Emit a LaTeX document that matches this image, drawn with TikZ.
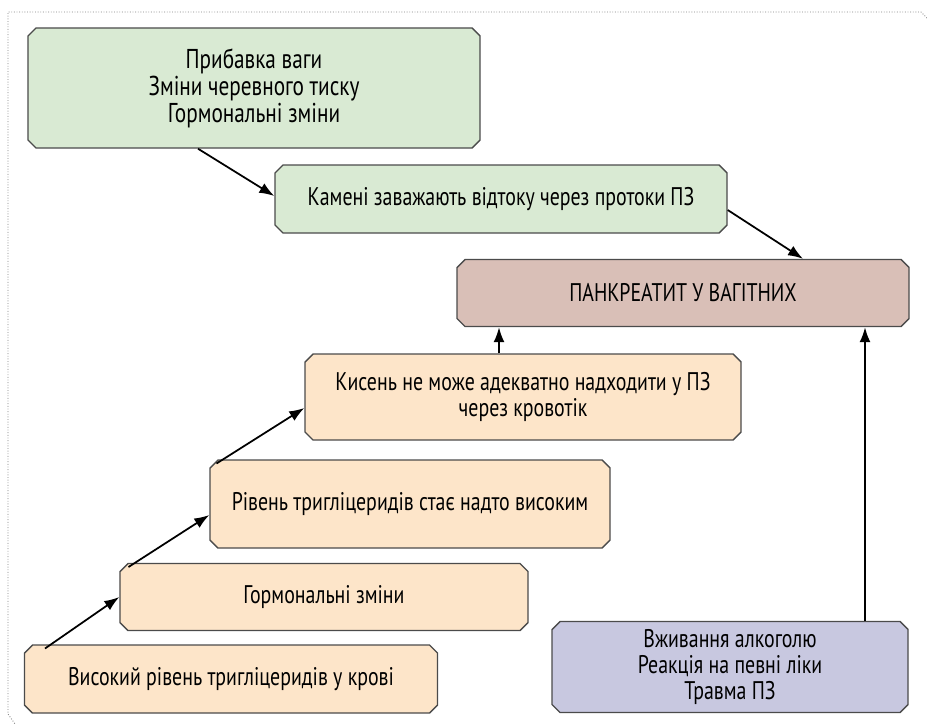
\documentclass[tikz,border=0pt]{standalone}
\usepackage{fontspec}
\setmainfont{PT Sans}[FakeStretch=0.78]
\usetikzlibrary{shapes.misc,arrows.meta}

\definecolor{boxgreen}{RGB}{217,234,211}
\definecolor{boxpink}{RGB}{217,191,183}
\definecolor{boxorange}{RGB}{253,229,201}
\definecolor{boxpurple}{RGB}{200,200,224}
\definecolor{boxline}{RGB}{75,75,75}

\begin{document}
\begin{tikzpicture}[x=0.2mm, y=-0.2mm,
    box/.style={chamfered rectangle, chamfered rectangle xsep=0.8mm, chamfered rectangle ysep=0.8mm,
        draw=boxline, line width=0.8pt, align=center, inner sep=0pt,
        font=\fontsize{14.5}{14.8}\selectfont},
    arr/.style={-{Latex[length=3mm,width=2.2mm]}, line width=1pt, black},
    frame/.style={densely dotted, gray, line width=0.5pt},]

        % Fix the page size
        \useasboundingbox (0,0) rectangle (927,727);

        % Dotted frame (top and left only)
        \draw[frame] (927,18) -- (921,12) -- (8,12) -- (8,714) -- (15,724);

        % Green boxes
        \node[box, fill=boxgreen, minimum width=90.4mm, minimum height=24mm,
              font=\fontsize{15.5}{15.4}\selectfont] (weight) at (254,88)
            {Прибавка ваги\\Зміни черевного тиску\\Гормональні зміни};
        \node[box, fill=boxgreen, minimum width=90.4mm, minimum height=13.6mm] (stones) at (501,199)
            {Камені заважають відтоку через протоки ПЗ};

        % Target box
        \node[box, fill=boxpink, minimum width=90.4mm, minimum height=13.4mm] (panc) at (683,293)
            {ПАНКРЕАТИТ У ВАГІТНИХ};

        % Orange staircase
        \node[box, fill=boxorange, minimum width=87.2mm, minimum height=17.2mm] (oxygen) at (523,397)
            {Кисень не може адекватно надходити у ПЗ\\через кровотік};
        \node[box, fill=boxorange, minimum width=80mm, minimum height=17.6mm] (trighigh) at (410,504)
            {Рівень тригліцеридів стає надто високим};
        \node[box, fill=boxorange, minimum width=81.6mm, minimum height=13.4mm] (hormones) at (324,597)
            {Гормональні зміни};
        \node[box, fill=boxorange, minimum width=82.6mm, minimum height=13.6mm] (blood) at (231,679)
            {Високий рівень тригліцеридів у крові};

        % Other causes
        \node[box, fill=boxpurple, minimum width=71.2mm, minimum height=18.2mm] (alcohol) at (730,667)
            {Вживання алкоголю\\Реакція на певні ліки\\Травма ПЗ};

        % Arrows
        \draw[arr] ([xshift=-11.2mm]weight.south) -- ([yshift=0.6mm]stones.west);
        \draw[arr] ([yshift=-2.2mm]stones.east) -- ([xshift=24mm]panc.north);
        \draw[arr] ([xshift=-4.8mm]oxygen.north) -- ([xshift=-4.8mm]oxygen.north |- panc.south);
        \draw[arr] ([xshift=0.6mm]trighigh.north west) -- ([yshift=-2.2mm]oxygen.west);
        \draw[arr] ([xshift=1mm]hormones.north west) -- ([yshift=-2.2mm]trighigh.west);
        \draw[arr] ([xshift=3.4mm]blood.north west) -- (hormones.west);
        \draw[arr] ([xshift=27mm]alcohol.north) -- ([xshift=27mm]alcohol.north |- panc.south);

    \end{tikzpicture}
\end{document}
